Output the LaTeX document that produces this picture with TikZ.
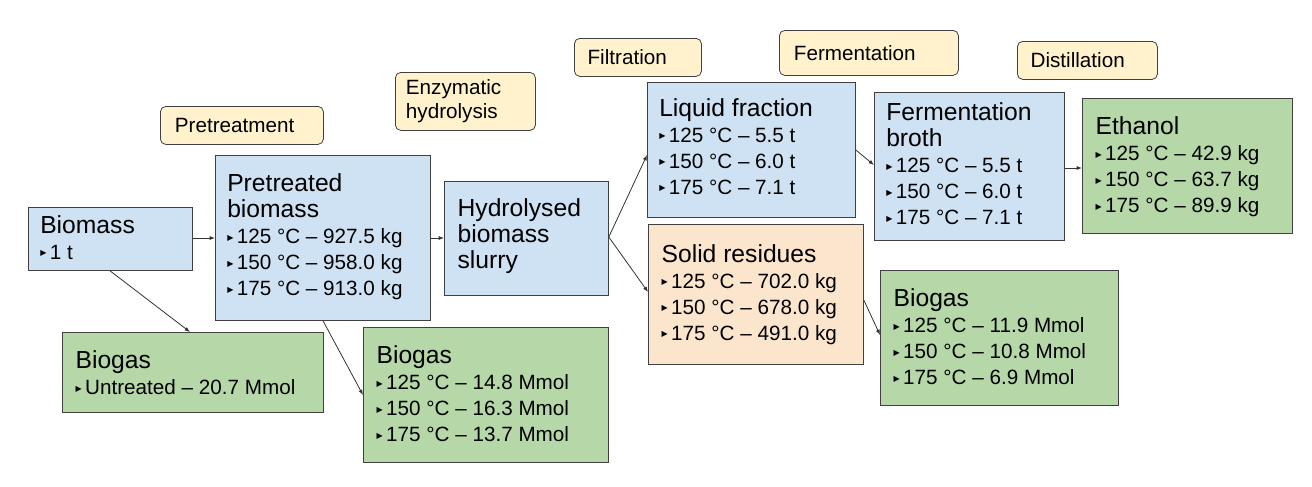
\documentclass[tikz,border=0pt]{standalone}
\usepackage{fontspec}
\setmainfont{Liberation Sans}
\newfontfamily\dv{DejaVu Sans}
\usetikzlibrary{arrows.meta}
\definecolor{cblue}{HTML}{CFE2F3}
\definecolor{cgreen}{HTML}{B6D7A8}
\definecolor{corange}{HTML}{FCE5CD}
\definecolor{cyel}{HTML}{FFF2CC}
\newcommand{\tri}{{\dv\fontsize{6}{6}\selectfont\raisebox{2.5pt}{▶}}\,}
\newcommand{\ttl}[1]{{\fontsize{18.5}{22}\selectfont #1}}
\tikzset{
 box/.style={draw=black!75, line width=0.6pt, anchor=north west, inner sep=0pt},
 txt/.style={anchor=north west, align=left, inner sep=0pt, font=\fontsize{15.5}{19.5}\selectfont},
 lab/.style={draw=black!75, fill=cyel, rounded corners=4pt, anchor=north west, inner sep=0pt, line width=0.6pt},
 labt/.style={align=left, font=\fontsize{15.5}{18}\selectfont, inner sep=0pt},
 arr/.style={-{Latex[length=4pt,width=3pt]}, black!80, line width=0.6pt}
}
\begin{document}
\begin{tikzpicture}[x=0.75pt,y=-0.75pt]
\useasboundingbox (0,0) rectangle (1312,486);
\newcommand{\bx}[6]{\node[box, fill=#2, minimum width=#5*0.75pt-#3*0.75pt, minimum height=#6*0.75pt] (#1) at (#3,#4) {};}
% boxes
\bx{bio}{cblue}{28}{207}{192}{63}
\bx{pre}{cblue}{215}{155}{430}{165}
\bx{hyd}{cblue}{444}{181}{608}{114}
\bx{liq}{cblue}{647}{82}{855}{135}
\bx{sol}{corange}{648}{224}{863}{140}
\bx{fer}{cblue}{874}{92}{1064}{148}
\bx{eth}{cgreen}{1082}{98}{1292}{135}
\bx{bg1}{cgreen}{62}{332}{323}{80}
\bx{bg2}{cgreen}{363}{327}{608}{135}
\bx{bg3}{cgreen}{880}{270}{1118}{135}
% texts
\node[txt] (tbio) at ([xshift=9pt,yshift=-6pt]bio.north west) {\ttl{Biomass}\\\tri 1 t};
\node[txt] (tpre) at ([xshift=9pt,yshift=-14pt]pre.north west) {\ttl{Pretreated}\\\ttl{biomass}\\\tri 125 °C – 927.5 kg\\\tri 150 °C – 958.0 kg\\\tri 175 °C – 913.0 kg};
\node[txt] (thyd) at ([xshift=10pt,yshift=-13pt]hyd.north west) {\ttl{Hydrolysed}\\\ttl{biomass}\\\ttl{slurry}};
\node[txt] (tliq) at ([xshift=9pt,yshift=-12pt]liq.north west) {\ttl{Liquid fraction}\\\tri 125 °C – 5.5 t\\\tri 150 °C – 6.0 t\\\tri 175 °C – 7.1 t};
\node[txt] (tsol) at ([xshift=10pt,yshift=-15pt]sol.north west) {\ttl{Solid residues}\\\tri 125 °C – 702.0 kg\\\tri 150 °C – 678.0 kg\\\tri 175 °C – 491.0 kg};
\node[txt] (tfer) at ([xshift=9pt,yshift=-8pt]fer.north west) {\ttl{Fermentation}\\\ttl{broth}\\\tri 125 °C – 5.5 t\\\tri 150 °C – 6.0 t\\\tri 175 °C – 7.1 t};
\node[txt] (teth) at ([xshift=10pt,yshift=-14pt]eth.north west) {\ttl{Ethanol}\\\tri 125 °C – 42.9 kg\\\tri 150 °C – 63.7 kg\\\tri 175 °C – 89.9 kg};
\node[txt] (tbg1) at ([xshift=10pt,yshift=-14pt]bg1.north west) {\ttl{Biogas}\\\tri Untreated – 20.7 Mmol};
\node[txt] (tbg2) at ([xshift=10pt,yshift=-14pt]bg2.north west) {\ttl{Biogas}\\\tri 125 °C – 14.8 Mmol\\\tri 150 °C – 16.3 Mmol\\\tri 175 °C – 13.7 Mmol};
\node[txt] (tbg3) at ([xshift=10pt,yshift=-14pt]bg3.north west) {\ttl{Biogas}\\\tri 125 °C – 11.9 Mmol\\\tri 150 °C – 10.8 Mmol\\\tri 175 °C – 6.9 Mmol};
% labels
\node[lab, minimum width=163*0.75pt, minimum height=38*0.75pt] (l1) at (160,106) {};
\node[labt, anchor=west] at ([xshift=11pt]l1.west) {Pretreatment};
\node[lab, minimum width=140*0.75pt, minimum height=58*0.75pt] (l2) at (395,72) {};
\node[labt, anchor=west] at ([xshift=8pt]l2.west) {Enzymatic\\hydrolysis};
\node[lab, minimum width=127*0.75pt, minimum height=38*0.75pt] (l3) at (574,38) {};
\node[labt, anchor=west] at ([xshift=10pt]l3.west) {Filtration};
\node[lab, minimum width=179*0.75pt, minimum height=45*0.75pt] (l4) at (779,30) {};
\node[labt, anchor=west] at ([xshift=11pt]l4.west) {Fermentation};
\node[lab, minimum width=140*0.75pt, minimum height=38*0.75pt] (l5) at (1017,41) {};
\node[labt, anchor=west] at ([xshift=10pt]l5.west) {Distillation};
% arrows
\draw[arr] (bio.east |- 0,238) -- (pre.west |- 0,238);
\draw[arr] (bio.south -| 110,0) -- (bg1.north -| 190,0);
\draw[arr] (pre.east |- 0,238) -- (hyd.west |- 0,238);
\draw[arr] (pre.south -| 323,0) -- (bg2.west |- 0,395);
\draw[arr] (hyd.east |- 0,237) -- (liq.west |- 0,155);
\draw[arr] (hyd.east |- 0,237) -- (sol.west |- 0,292);
\draw[arr] (liq.east |- 0,150) -- (fer.west |- 0,165);
\draw[arr] (fer.east |- 0,168) -- (eth.west |- 0,168);
\draw[arr] (sol.east |- 0,300) -- (bg3.west |- 0,335);
\end{tikzpicture}
\end{document}
